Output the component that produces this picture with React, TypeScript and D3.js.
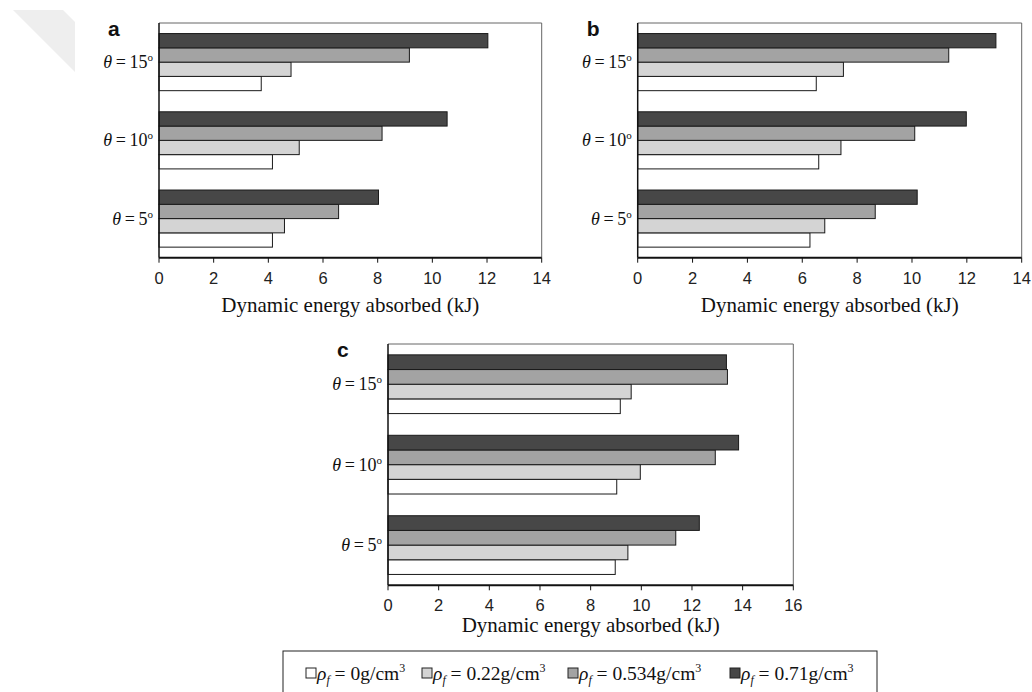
import * as d3 from "d3";

// angle groups, top to bottom
const angles = ["15", "10", "5"];
// foam densities (g/cm3) in legend order
const densities = ["0", "0.22", "0.534", "0.71"];
const fills = ["#ffffff", "#d4d4d4", "#a3a3a3", "#474747"];

// values per angle: [rho 0, rho 0.22, rho 0.534, rho 0.71]
const panelA15 = [3.74, 4.83, 9.16, 12.03];
const panelA10 = [4.15, 5.13, 8.16, 10.54];
const panelA5 = [4.15, 4.59, 6.57, 8.03];

const panelB15 = [6.51, 7.5, 11.34, 13.06];
const panelB10 = [6.6, 7.41, 10.1, 11.98];
const panelB5 = [6.28, 6.82, 8.66, 10.19];

const panelC15 = [9.17, 9.6, 13.4, 13.36];
const panelC10 = [9.03, 9.96, 12.92, 13.84];
const panelC5 = [8.97, 9.47, 11.36, 12.29];

const ticksA = [0, 2, 4, 6, 8, 10, 12, 14];
const ticksC = [0, 2, 4, 6, 8, 10, 12, 14, 16];

const xTitle = "Dynamic energy absorbed (kJ)";

const serif = "'Liberation Serif', 'Times New Roman', serif";
const sans = "'Liberation Sans', Arial, sans-serif";

type PanelProps = {
  letter: string;
  rows: number[][];
  ticks: number[];
  left: number;
  right: number;
  top: number;
  bottom: number;
  titleGap: number;
};

function Panel({ letter, rows, ticks, left, right, top, bottom, titleGap }: PanelProps) {
  const x = d3
    .scaleLinear()
    .domain([0, ticks[ticks.length - 1]])
    .range([left, right]);

  const y = d3
    .scaleBand()
    .domain(angles)
    .range([top, bottom])
    .paddingInner(0.27)
    .paddingOuter(0.135);

  // darkest bar on top
  const inner = d3
    .scaleBand<number>()
    .domain([3, 2, 1, 0])
    .range([0, y.bandwidth()]);

  return (
    <g>
      <text
        x={left - 51}
        y={top + 13}
        fontFamily={sans}
        fontWeight="bold"
        fontSize={21}
        fill="#111"
      >
        {letter}
      </text>

      {rows.map((vals, gi) => {
        const gy = y(angles[gi]) as number;
        return (
          <g key={gi}>
            {vals.map((v, si) => (
              <rect
                key={si}
                x={x(0)}
                y={gy + (inner(si) as number)}
                width={x(v) - x(0)}
                height={inner.bandwidth()}
                fill={fills[si]}
                stroke="#1a1a1a"
                strokeWidth={1}
              />
            ))}
            <text
              x={left - 6}
              y={gy + y.bandwidth() / 2 + 6}
              textAnchor="end"
              fontFamily={serif}
              fontSize={18}
              fill="#111"
            >
              <tspan fontStyle="italic">θ</tspan>
              {"\u2009=\u2009" + angles[gi]}
              <tspan fontSize={11} dy={-7}>
                o
              </tspan>
            </text>
          </g>
        );
      })}

      {/* frame */}
      <line x1={left} x2={right} y1={top} y2={top} stroke="#666" strokeWidth={1} />
      <line x1={right} x2={right} y1={top} y2={bottom} stroke="#666" strokeWidth={1} />
      <line x1={left} x2={left} y1={top} y2={bottom} stroke="#111" strokeWidth={1.5} />
      <line x1={left} x2={right} y1={bottom} y2={bottom} stroke="#111" strokeWidth={2} />

      {ticks.map((t) => (
        <g key={t} transform={`translate(${x(t)},${bottom})`}>
          <line y1={0} y2={5} stroke="#111" strokeWidth={1} />
          <text
            y={26}
            textAnchor="middle"
            fontFamily={sans}
            fontSize={16.5}
            fill="#222"
          >
            {t}
          </text>
        </g>
      ))}

      <text
        x={(left + right) / 2}
        y={bottom + titleGap}
        textAnchor="middle"
        fontFamily={serif}
        fontSize={21}
        fill="#111"
      >
        {xTitle}
      </text>
    </g>
  );
}

function Legend() {
  const itemX = [306, 422, 568, 730];
  return (
    <g>
      <rect x={283} y={651} width={594} height={45} fill="none" stroke="#222" strokeWidth={1} />
      {densities.map((d, i) => (
        <g key={d}>
          <rect
            x={itemX[i]}
            y={668}
            width={10}
            height={10}
            fill={fills[i]}
            stroke="#222"
            strokeWidth={1}
          />
          <text
            x={itemX[i] + 11}
            y={680}
            fontFamily={serif}
            fontSize={19.5}
            fill="#111"
          >
            <tspan fontStyle="italic">ρ</tspan>
            <tspan fontStyle="italic" fontSize={12} dy={4}>
              f
            </tspan>
            <tspan dy={-4}>{" = " + d + "g/cm"}</tspan>
            <tspan fontSize={12} dy={-8}>
              3
            </tspan>
          </text>
        </g>
      ))}
    </g>
  );
}

export default function App() {
  return (
    <svg
      width={1032}
      height={692}
      style={{ position: "absolute", left: 0, top: 0, background: "#fff" }}
    >
      <rect width={1032} height={692} fill="#fff" />
      <polygon points="13,10 63,10 75,22 75,72" fill="#eeeeee" />
      <Panel
        letter="a"
        rows={[panelA15, panelA10, panelA5]}
        ticks={ticksA}
        left={159}
        right={541.7}
        top={23}
        bottom={257.7}
        titleGap={54}
      />
      <Panel
        letter="b"
        rows={[panelB15, panelB10, panelB5]}
        ticks={ticksA}
        left={637.7}
        right={1021.7}
        top={23}
        bottom={257.7}
        titleGap={54}
      />
      <Panel
        letter="c"
        rows={[panelC15, panelC10, panelC5]}
        ticks={ticksC}
        left={388}
        right={793.3}
        top={344}
        bottom={585.3}
        titleGap={47}
      />
      <Legend />
    </svg>
  );
}
